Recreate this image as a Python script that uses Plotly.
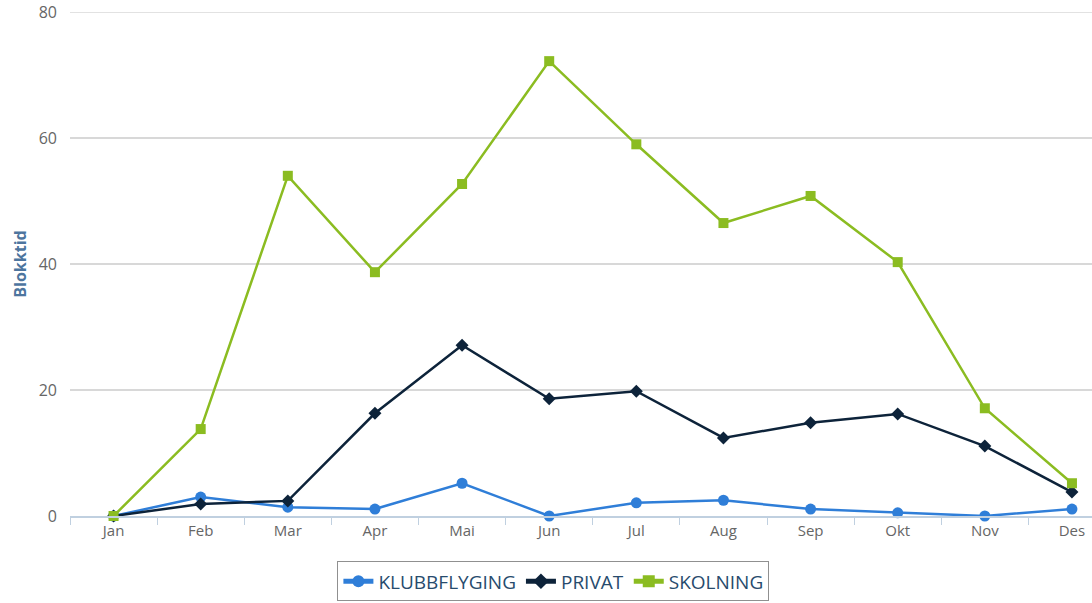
import plotly.graph_objects as go

months = ["Jan", "Feb", "Mar", "Apr", "Mai", "Jun", "Jul", "Aug", "Sep", "Okt", "Nov", "Des"]
klubbflyging = [0, 3.0, 1.4, 1.1, 5.2, 0, 2.1, 2.5, 1.1, 0.5, 0, 1.1]
privat = [0, 1.9, 2.4, 16.3, 27.1, 18.6, 19.8, 12.4, 14.8, 16.2, 11.1, 3.8]
skolning = [0, 13.8, 54.0, 38.7, 52.7, 72.2, 59.0, 46.5, 50.8, 40.3, 17.1, 5.2]
y_ticks = [0, 20, 40, 60, 80]

series = [
    ("KLUBBFLYGING", klubbflyging, "#2f7ed8", "circle", 11),
    ("PRIVAT", privat, "#0d233a", "diamond", 10),
    ("SKOLNING", skolning, "#8bbc21", "square", 10),
]

fig = go.Figure()
for name, vals, color, sym, size in series:
    fig.add_trace(go.Scatter(
        x=months, y=vals, name=name, mode="lines+markers",
        line=dict(color=color, width=2.5),
        marker=dict(color=color, symbol=sym, size=size),
        cliponaxis=False,
    ))

# top gridline (plotly omits gridline at the range edge)
fig.add_shape(type="line", xref="paper", x0=0, x1=1, yref="y", y0=y_ticks[-1], y1=y_ticks[-1],
              line=dict(color="#d8d8d8", width=1.5), layer="below")

fig.update_layout(
    width=1092, height=603,
    margin=dict(l=70, r=0, t=12, b=87),
    paper_bgcolor="white", plot_bgcolor="white",
    font=dict(family="Open Sans, Verdana, sans-serif", color="#666666", size=14),
    showlegend=True,
    legend=dict(
        orientation="h", x=0.473, xanchor="center", y=-0.09, yanchor="top",
        bordercolor="#909090", borderwidth=1, bgcolor="white",
        font=dict(size=19, color="#274b6d"),
        itemsizing="constant", tracegroupgap=0, itemwidth=30,
    ),
    xaxis=dict(
        type="category", range=[-0.5, 11.23],
        showgrid=False, showline=True, linecolor="#c0d0e0", linewidth=1.5,
        ticks="outside", tickson="boundaries", ticklen=7, tickcolor="#c0d0e0",
        tickfont=dict(size=15, color="#666666"), zeroline=False,
    ),
    yaxis=dict(
        range=[0, 80], tickvals=y_ticks,
        showgrid=True, gridcolor="#d8d8d8", gridwidth=1.5,
        zeroline=False, showline=False, ticks="",
        tickfont=dict(size=16, color="#666666"),
        ticklabelstandoff=12,
        title=dict(text="<b>Blokktid</b>", font=dict(size=16, color="#4d759e"), standoff=8),
    ),
)

fig.write_html("out.html", config={"displayModeBar": False},
               post_script="document.body.style.margin='0';")
